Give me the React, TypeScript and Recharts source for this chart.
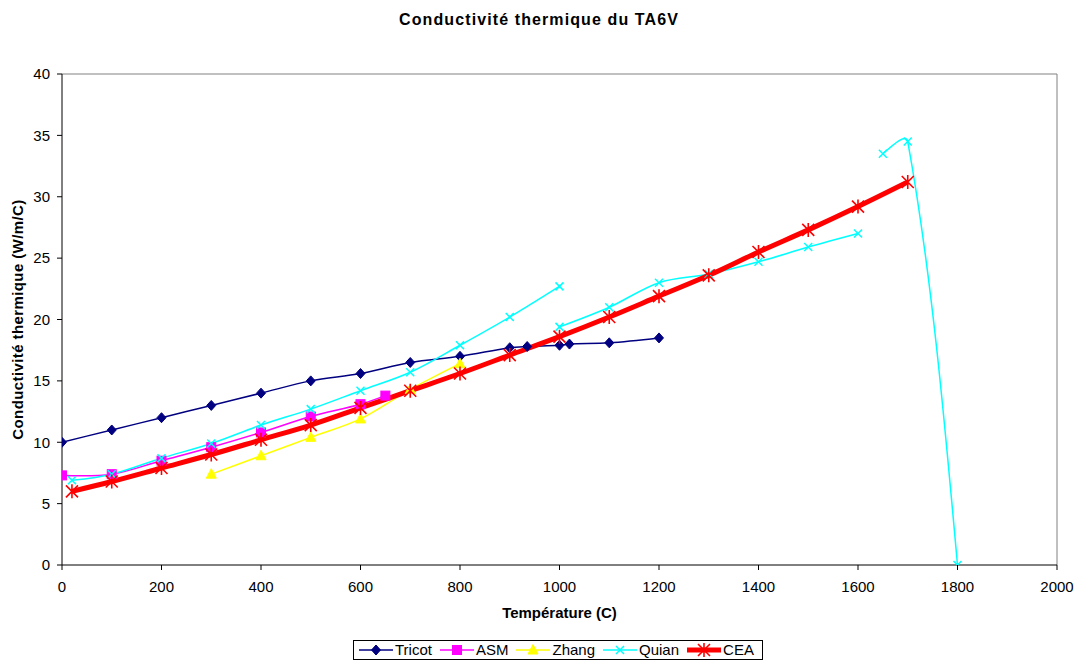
import React from 'react';
import { LineChart, Line, XAxis, YAxis, ReferenceLine } from 'recharts';

const FONT = '"Liberation Sans", Arial, sans-serif';

const chartTitle = 'Conductivité thermique du TA6V';
const xTitle = 'Température (C)';
const yTitle = 'Conductivité thermique (W/m/C)';

const xTicks = [0, 200, 400, 600, 800, 1000, 1200, 1400, 1600, 1800, 2000];
const yTicks = [0, 5, 10, 15, 20, 25, 30, 35, 40];

const tricotT = [0, 100, 200, 300, 400, 500, 600, 700, 800, 900, 935, 1000, 1020, 1100, 1200];
const tricotK = [10, 11, 12, 13, 14, 15, 15.6, 16.5, 17, 17.7, 17.8, 17.9, 18, 18.1, 18.5];

const asmT = [0, 100, 200, 300, 400, 500, 600, 650];
const asmK = [7.3, 7.4, 8.5, 9.6, 10.8, 12.1, 13.1, 13.8];

const zhangT = [300, 400, 500, 600, 700, 800];
const zhangK = [7.4, 8.9, 10.4, 11.9, 14.3, 16.4];

const quian1T = [20, 100, 200, 300, 400, 500, 600, 700, 800, 900, 1000];
const quian1K = [6.9, 7.4, 8.7, 9.9, 11.4, 12.7, 14.2, 15.7, 17.9, 20.2, 22.7];
const quian2T = [1000, 1100, 1200, 1300, 1400, 1500, 1600];
const quian2K = [19.4, 21.0, 23.0, 23.7, 24.7, 25.9, 27.0];
const quian3T = [1650, 1700, 1800];
const quian3K = [33.5, 34.5, 0];

const ceaT = [20, 100, 200, 300, 400, 500, 600, 700, 800, 900, 1000, 1100, 1200, 1300, 1400, 1500, 1600, 1700];
const ceaK = [6.0, 6.8, 7.9, 9.0, 10.2, 11.4, 12.8, 14.2, 15.6, 17.1, 18.6, 20.2, 21.9, 23.6, 25.5, 27.3, 29.2, 31.2];

const toData = (t: number[], k: (number | null)[]) => t.map((x, i) => ({ x, y: k[i] }));
const joinSegments = (segs: { x: number; y: number | null }[][]) => {
  const out: { x: number; y: number | null }[] = [];
  segs.forEach((s, i) => {
    if (i > 0) out.push({ x: s[0].x, y: null });
    out.push(...s);
  });
  return out;
};

const tricotData = toData(tricotT, tricotK);
const asmData = toData(asmT, asmK);
const zhangData = toData(zhangT, zhangK);
const quianData = joinSegments([toData(quian1T, quian1K), toData(quian2T, quian2K), toData(quian3T, quian3K)]);
const ceaData = toData(ceaT, ceaK);

// Excel-like smoothed line curve factory
function excelSmooth(context: any) {
  let pts: number[][] = [];
  return {
    areaStart() {},
    areaEnd() {},
    lineStart() {
      pts = [];
    },
    point(x: number, y: number) {
      pts.push([+x, +y]);
    },
    lineEnd() {
      const n = pts.length;
      if (!n) return;
      context.moveTo(pts[0][0], pts[0][1]);
      if (n === 1) {
        context.lineTo(pts[0][0], pts[0][1]);
        return;
      }
      if (n === 2) {
        context.lineTo(pts[1][0], pts[1][1]);
        return;
      }
      const dist = (a: number[], b: number[]) => Math.hypot(b[0] - a[0], b[1] - a[1]) || 1e-6;
      const tan = (i: number): number[][] => {
        const T = [pts[i + 1][0] - pts[i - 1][0], pts[i + 1][1] - pts[i - 1][1]];
        const d0 = dist(pts[i - 1], pts[i]);
        const d1 = dist(pts[i], pts[i + 1]);
        const a = d0 / (d0 + d1) / 3;
        const b = d1 / (d0 + d1) / 3;
        return [
          [T[0] * a, T[1] * a],
          [T[0] * b, T[1] * b],
        ];
      };
      for (let i = 0; i < n - 1; i++) {
        const p0 = pts[i];
        const p1 = pts[i + 1];
        let c1: number[] | null = null;
        let c2: number[] | null = null;
        if (i > 0) {
          const o = tan(i)[1];
          c1 = [p0[0] + o[0], p0[1] + o[1]];
        }
        if (i + 1 < n - 1) {
          const inn = tan(i + 1)[0];
          c2 = [p1[0] - inn[0], p1[1] - inn[1]];
        }
        if (!c1 && c2) c1 = [p0[0] + (c2[0] - p0[0]) / 2, p0[1] + (c2[1] - p0[1]) / 2];
        if (!c2 && c1) c2 = [p1[0] + (c1[0] - p1[0]) / 2, p1[1] + (c1[1] - p1[1]) / 2];
        if (!c1 || !c2) {
          context.lineTo(p1[0], p1[1]);
          continue;
        }
        context.bezierCurveTo(c1[0], c1[1], c2[0], c2[1], p1[0], p1[1]);
      }
    },
  };
}

type MarkerKind = 'diamond' | 'square' | 'triangle' | 'x' | 'star';

const markerShape = (kind: MarkerKind, cx: number, cy: number, color: string, key?: any) => {
  switch (kind) {
    case 'diamond':
      return <path key={key} d={`M${cx},${cy - 5}L${cx + 4.5},${cy}L${cx},${cy + 5}L${cx - 4.5},${cy}Z`} fill={color} stroke={color} strokeWidth={1} />;
    case 'square':
      return <rect key={key} x={cx - 4.5} y={cy - 4.5} width={9} height={9} fill={color} stroke={color} strokeWidth={1} />;
    case 'triangle':
      return <path key={key} d={`M${cx},${cy - 5.5}L${cx + 5},${cy + 4}L${cx - 5},${cy + 4}Z`} fill={color} stroke={color} strokeWidth={1} />;
    case 'x':
      return (
        <path key={key} d={`M${cx - 4},${cy - 4}L${cx + 4},${cy + 4}M${cx - 4},${cy + 4}L${cx + 4},${cy - 4}`} stroke={color} strokeWidth={1.5} fill="none" />
      );
    case 'star':
      return (
        <path
          key={key}
          d={`M${cx - 6},${cy - 6}L${cx + 6},${cy + 6}M${cx - 6},${cy + 6}L${cx + 6},${cy - 6}M${cx},${cy - 7}L${cx},${cy + 7}`}
          stroke={color}
          strokeWidth={1.6}
          fill="none"
        />
      );
  }
  return null;
};

const makeDot = (kind: MarkerKind, color: string) => (p: any) => {
  if (p.cx == null || p.cy == null || p.value == null || isNaN(p.cy)) return <g key={p.key} />;
  return markerShape(kind, p.cx, p.cy, color, p.key);
};

const seriesNames = ['Tricot', 'ASM', 'Zhang', 'Quian', 'CEA'];
const seriesColors = ['#000080', '#FF00FF', '#FFFF00', '#00FFFF', '#FF0000'];
const seriesMarkers: MarkerKind[] = ['diamond', 'square', 'triangle', 'x', 'star'];
const seriesWidths = [1.5, 1.5, 1.5, 1.5, 5];
const seriesData = [tricotData, asmData, zhangData, quianData, ceaData];

export default function App() {
  return (
    <div style={{ position: 'relative', width: 1078, height: 661, background: '#fff', fontFamily: FONT }}>
      <style>{'body{margin:0;background:#fff}'}</style>
      <div
        style={{
          position: 'absolute',
          left: 0,
          width: 1078,
          top: 11,
          textAlign: 'center',
          fontWeight: 'bold',
          fontSize: 16,
          letterSpacing: 1.1,
          color: '#000',
        }}
      >
        {chartTitle}
      </div>
      <LineChart width={1078} height={661} margin={{ top: 74, right: 21, bottom: 0, left: 0 }}>
        <XAxis
          dataKey="x"
          type="number"
          domain={[0, 2000]}
          ticks={xTicks}
          allowDataOverflow
          height={96}
          tickSize={5}
          tickMargin={11}
          stroke="#000"
          tick={{ fill: '#000', fontSize: 15, fontFamily: FONT }}
          label={{ value: xTitle, position: 'insideBottom', offset: 43, style: { fontWeight: 'bold', fontSize: 15, fill: '#000', fontFamily: FONT } }}
        />
        <YAxis
          type="number"
          domain={[0, 40]}
          ticks={yTicks}
          allowDataOverflow
          width={62}
          tickSize={5}
          tickMargin={7}
          stroke="#000"
          tick={{ fill: '#000', fontSize: 15, fontFamily: FONT }}
          label={{
            value: yTitle,
            angle: -90,
            position: 'insideLeft',
            offset: 18,
            style: { fontWeight: 'bold', fontSize: 15, fill: '#000', fontFamily: FONT, textAnchor: 'middle', letterSpacing: 0.4 },
          }}
        />
        <ReferenceLine y={40} stroke="#808080" strokeWidth={1} ifOverflow="visible" />
        <ReferenceLine x={2000} stroke="#808080" strokeWidth={1} ifOverflow="visible" />
        {seriesNames.map((name, i) => (
          <Line
            key={name}
            name={name}
            data={seriesData[i]}
            dataKey="y"
            type={excelSmooth as any}
            stroke={seriesColors[i]}
            strokeWidth={seriesWidths[i]}
            dot={makeDot(seriesMarkers[i], seriesColors[i])}
            activeDot={false}
            isAnimationActive={false}
            connectNulls={false}
          />
        ))}
      </LineChart>
      <div
        style={{
          position: 'absolute',
          left: 353,
          top: 640,
          width: 410,
          height: 20,
          boxSizing: 'border-box',
          border: '1px solid #000',
          display: 'flex',
          alignItems: 'center',
          justifyContent: 'flex-start',
          paddingLeft: 5,
          fontSize: 15,
          color: '#000',
          background: '#fff',
        }}
      >
        {seriesNames.map((name, i) => (
          <div key={name} style={{ display: 'flex', alignItems: 'center', marginRight: i < seriesNames.length - 1 ? 8 : 0 }}>
            <svg width={34} height={16} style={{ display: 'block' }}>
              <line x1={0} y1={8} x2={34} y2={8} stroke={seriesColors[i]} strokeWidth={seriesWidths[i] === 5 ? 5 : 1.5} />
              {markerShape(seriesMarkers[i], 17, 8, seriesColors[i])}
            </svg>
            <span style={{ marginLeft: 2, lineHeight: '16px' }}>{name}</span>
          </div>
        ))}
      </div>
    </div>
  );
}
